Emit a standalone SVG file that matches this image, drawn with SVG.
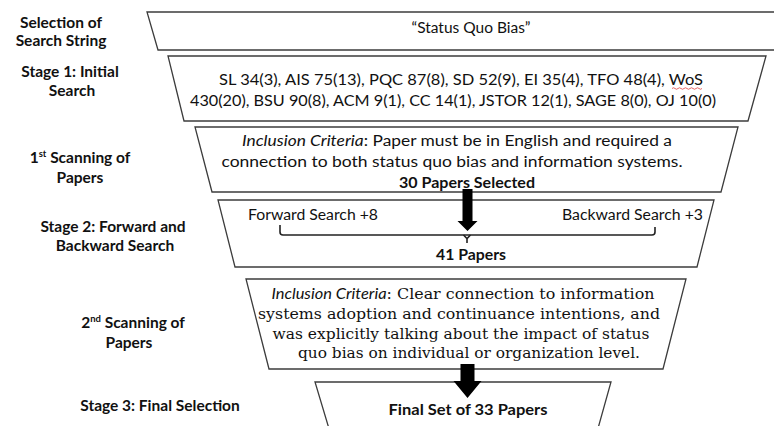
<svg xmlns="http://www.w3.org/2000/svg" width="774" height="426" viewBox="0 0 774 426">
<style>
.bg{fill:#fff}
.trap{fill:#fff;stroke:#3c3c3c;stroke-width:1.3}
.lbl{font-family:Lato,"Liberation Sans",sans-serif;font-weight:bold;font-size:15.5px;fill:#111;text-anchor:middle}
.t{font-family:Lato,"Liberation Sans",sans-serif;font-size:15.5px;fill:#111}
.c{text-anchor:middle}
.b{font-weight:bold}
.it{font-style:italic}
.sf{font-family:"DejaVu Serif","Liberation Serif",serif;font-size:15px;fill:#111;text-anchor:middle}
.sup{font-size:9.5px}
.conn{fill:none;stroke:#222;stroke-width:1.6}
.arrow{fill:#000}
</style>
<rect class="bg" x="0" y="0" width="774" height="426"/>

<g id="labels">
<text class="lbl" x="61" y="28">Selection of</text>
<text class="lbl" x="61" y="46">Search String</text>
<text class="lbl" x="70" y="77">Stage 1: Initial</text>
<text class="lbl" x="72" y="96">Search</text>
<text class="lbl" x="80" y="163">1<tspan class="sup" dy="-6">st</tspan><tspan dy="6"> Scanning of</tspan></text>
<text class="lbl" x="80" y="183">Papers</text>
<text class="lbl" x="113" y="232">Stage 2: Forward and</text>
<text class="lbl" x="115" y="251">Backward Search</text>
<text class="lbl" x="133" y="328">2<tspan class="sup" dy="-6">nd</tspan><tspan dy="6"> Scanning of</tspan></text>
<text class="lbl" x="129" y="348">Papers</text>
<text class="lbl" x="160" y="411">Stage 3: Final Selection</text>
</g>

<g id="search-string">
<polygon class="trap" points="147,12 780,12 780,50 158,50"/>
<text class="t c" x="471" y="33">“Status Quo Bias”</text>
</g>

<g id="initial-search">
<polygon class="trap" points="168,56 766,56 748,121 184,121"/>
<text class="t c" x="461" y="85" textLength="484" lengthAdjust="spacingAndGlyphs">SL 34(3), AIS 75(13), PQC 87(8), SD 52(9), EI 35(4), TFO 48(4), WoS</text>
<path d="M672,88.5 q1.5,-1.5 3,0 t3,0 t3,0 t3,0 t3,0 t3,0 t3,0 t3,0 t3,0 t3,0" fill="none" stroke="#e04040" stroke-width="0.8"/>
<text class="t c" x="453" y="106" textLength="526" lengthAdjust="spacingAndGlyphs">430(20), BSU 90(8), ACM 9(1), CC 14(1), JSTOR 12(1), SAGE 8(0), OJ 10(0)</text>
</g>

<g id="first-scanning">
<polygon class="trap" points="195,127 738,127 721,192 212,192"/>
<text class="t c" x="457" y="146" textLength="430" lengthAdjust="spacingAndGlyphs"><tspan class="it">Inclusion Criteria</tspan>: Paper must be in English and required a</text>
<text class="t c" x="452" y="167" textLength="461" lengthAdjust="spacingAndGlyphs">connection to both status quo bias and information systems.</text>
<text class="t c b" x="467" y="188" textLength="136" lengthAdjust="spacingAndGlyphs">30 Papers Selected</text>
</g>

<g id="forward-backward">
<polygon class="trap" points="218,200 714,200 697,267 235,267"/>
<text class="t" x="248" y="220" textLength="130" lengthAdjust="spacingAndGlyphs">Forward Search +8</text>
<text class="t" x="562" y="220" textLength="141" lengthAdjust="spacingAndGlyphs">Backward Search +3</text>
<text class="t c b" x="471" y="260" textLength="70" lengthAdjust="spacingAndGlyphs">41 Papers</text>
</g>

<g id="second-scanning">
<polygon class="trap" points="246,279 686,279 663,369 269,369"/>
<text class="sf" x="463" y="299" textLength="383" lengthAdjust="spacingAndGlyphs"><tspan class="it" style="font-family:Lato,'Liberation Sans',sans-serif;font-size:15.5px">Inclusion Criteria</tspan>: Clear connection to information</text>
<text class="sf" x="459" y="319" textLength="402" lengthAdjust="spacingAndGlyphs">systems adoption and continuance intentions, and</text>
<text class="sf" x="461" y="339" textLength="377" lengthAdjust="spacingAndGlyphs">was explicitly talking about the impact of status</text>
<text class="sf" x="469" y="358" textLength="342" lengthAdjust="spacingAndGlyphs">quo bias on individual or organization level.</text>
</g>

<g id="final-selection">
<polygon class="trap" points="315,382 611,382 597,432 330,432"/>
<text class="t c b" x="468" y="415" textLength="159" lengthAdjust="spacingAndGlyphs">Final Set of 33 Papers</text>
</g>

<g id="connectors">
<path class="conn" d="M280,225 V232 Q280,235 283,235 H652 Q655,235 655,232 V227"/>
<path class="conn" d="M463.5,235 L467,238.5 L470.5,235 M467,238.5 V243"/>
<polygon class="arrow" points="462.5,189 472.5,189 472.5,221 477.5,221 467.5,231 457.5,221 462.5,221"/>
<polygon class="arrow" points="460.5,364 474.5,364 474.5,381 481.5,381 467.5,398 453.5,381 460.5,381"/>
</g>
</svg>
